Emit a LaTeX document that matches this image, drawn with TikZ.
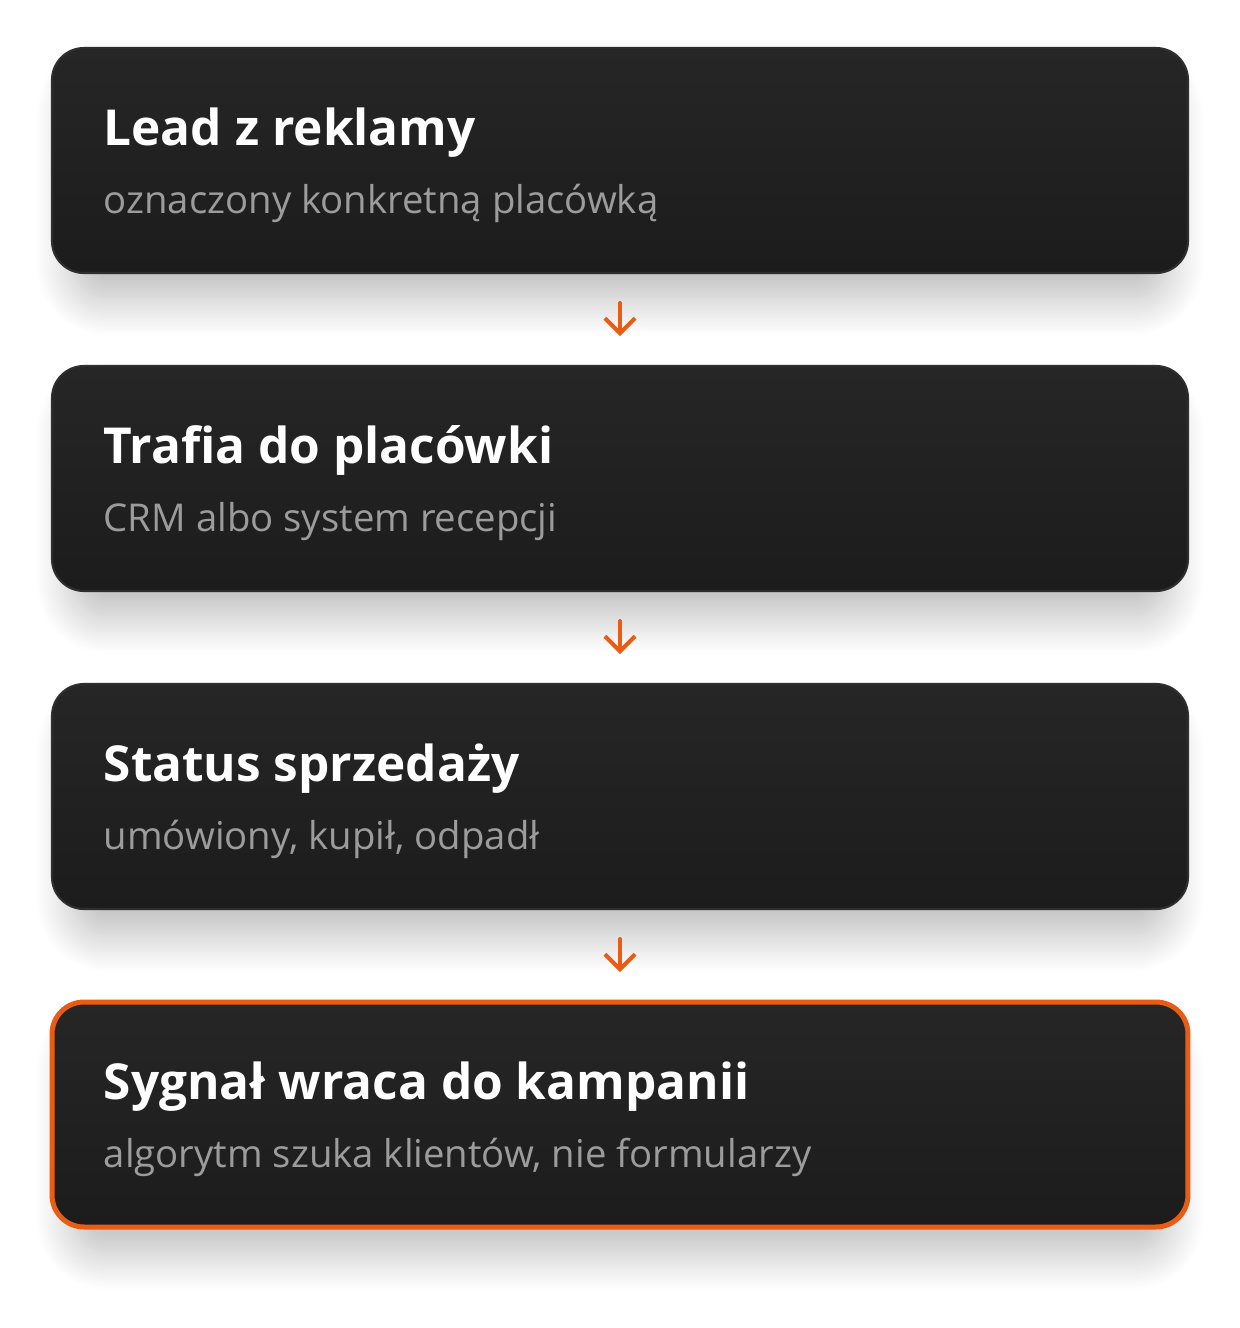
\documentclass[tikz,border=0pt]{standalone}
\usepackage{fontspec}
\setmainfont{Open Sans}
\usetikzlibrary{positioning,arrows.meta,shadows,shadows.blur}
\definecolor{boxtop}{HTML}{262626}
\definecolor{boxbot}{HTML}{1C1C1C}
\definecolor{boxline}{HTML}{2E2E2E}
\definecolor{accent}{HTML}{E85C14}
\definecolor{subgray}{HTML}{9C9C9C}
\begin{document}
\begin{tikzpicture}[x=0.1mm, y=-0.1mm, node distance = 0.93cm,
	stepbox/.style = {rectangle, rounded corners=0.32cm, minimum width=11.36cm, minimum height=2.25cm, outer sep=0pt,
		top color=boxtop, bottom color=boxbot, draw=boxline, line width=0.6pt,
		blur shadow={shadow xshift=0cm, shadow yshift=-0.3cm, shadow scale=0.96, shadow blur radius=0.4cm, shadow blur steps=24, shadow opacity=28}},
	lastbox/.style = {stepbox, draw=accent, line width=0.05cm},
	title/.style = {anchor=base west, inner sep=0pt, text=white, font=\fontsize{14.1}{17}\selectfont\bfseries},
	subtitle/.style = {anchor=base west, inner sep=0pt, text=subgray, font=\fontsize{10.9}{14}\selectfont},
	flow/.style = {draw=accent, line width=0.04cm, line cap=round, -{Straight Barb[length=0.15cm, width=0.3cm, line width=0.04cm]}, shorten <=0.3cm, shorten >=0.3cm}]
	\useasboundingbox (0,0) rectangle (1240,1328);
	\node (lead) [stepbox] at (620,160.5) {};
	\node (placowka) [stepbox, below = of lead] {};
	\node (status) [stepbox, below = of placowka] {};
	\node (sygnal) [lastbox, below = of status] {};
	% texts
	\node (leadT) [title] at ([xshift=0.51cm, yshift=-0.97cm] lead.north west) {Lead z reklamy};
	\node (leadS) [subtitle] at ([xshift=0.51cm, yshift=-1.65cm] lead.north west) {oznaczony konkretną placówką};
	\node (placowkaT) [title] at ([xshift=0.51cm, yshift=-0.97cm] placowka.north west) {Trafia do placówki};
	\node (placowkaS) [subtitle] at ([xshift=0.51cm, yshift=-1.65cm] placowka.north west) {CRM albo system recepcji};
	\node (statusT) [title] at ([xshift=0.51cm, yshift=-0.97cm] status.north west) {Status sprzedaży};
	\node (statusS) [subtitle] at ([xshift=0.51cm, yshift=-1.65cm] status.north west) {umówiony, kupił, odpadł};
	\node (sygnalT) [title] at ([xshift=0.51cm, yshift=-0.97cm] sygnal.north west) {Sygnał wraca do kampanii};
	\node (sygnalS) [subtitle] at ([xshift=0.51cm, yshift=-1.65cm] sygnal.north west) {algorytm szuka klientów, nie formularzy};
	% arrows
	\draw [flow] (lead) -- (placowka);
	\draw [flow] (placowka) -- (status);
	\draw [flow] (status) -- (sygnal);
\end{tikzpicture}
\end{document}
